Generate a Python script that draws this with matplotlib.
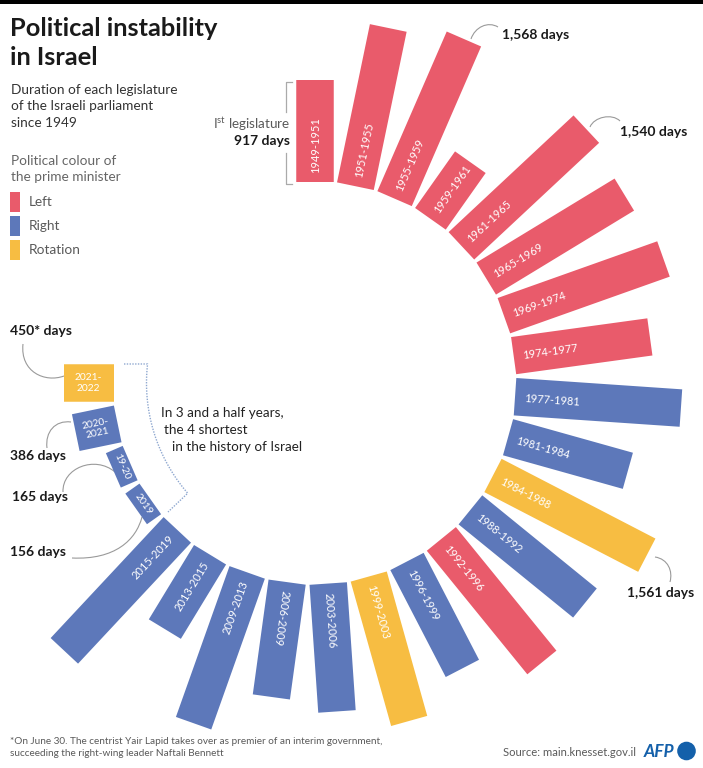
import numpy as np
import matplotlib
matplotlib.use("Agg")
import matplotlib.pyplot as plt
from matplotlib.path import Path
from matplotlib.patches import PathPatch, Rectangle, Circle

plt.rcParams['font.family'] = ['Lato', 'DejaVu Sans']
plt.rcParams['mathtext.fontset'] = 'custom'
plt.rcParams['mathtext.rm'] = 'Lato'

# ---------------- data ----------------
legislatures = ["1949-1951", "1951-1955", "1955-1959", "1959-1961", "1961-1965",
                "1965-1969", "1969-1974", "1974-1977", "1977-1981", "1981-1984",
                "1984-1988", "1988-1992", "1992-1996", "1996-1999", "1999-2003",
                "2003-2006", "2006-2009", "2009-2013", "2013-2015", "2015-2019",
                "2019", "19-20", "2020-\n2021", "2021-\n2022"]
days = [917, 1456, 1568, 624, 1540, 1456, 1526, 1239, 1498, 1121,
        1561, 1330, 1435, 1085, 1351, 1155, 1044, 1442, 784, 1491,
        156, 165, 386, 450]
pm_colour = ["Left"] * 8 + ["Right", "Right", "Rotation", "Right", "Left",
                            "Right", "Rotation"] + ["Right"] * 8 + ["Rotation"]
legend_labels = ["Left", "Right", "Rotation"]
palette = {"Left": "#E95B6B", "Right": "#5D78BA", "Rotation": "#F7BD42"}

# ---------------- layout ----------------
W, H = 703, 768
CX, CY = 314.5, 383.0      # centre of the ring (pixels)
INNER = 201.0              # inner radius (pixels)
PXD = 0.111                # pixels per day
R_AX = 420.0               # radius of the polar axes (pixels)
BAR_W = 37.5               # bar thickness (pixels)

fig = plt.figure(figsize=(W / 100, H / 100), dpi=100)
ov = fig.add_axes([0, 0, 1, 1])
ov.set_xlim(0, W)
ov.set_ylim(H, 0)
ov.axis('off')

# top rule
ov.add_patch(Rectangle((0, 0), W, 3.5, color='black', lw=0))

DARK = '#1a1a1a'
GREY = '#5a5a5a'

# title
ov.text(10, 36, "Political instability", fontsize=18.3, fontweight='bold', color=DARK, va='baseline')
ov.text(10, 65, "in Israel", fontsize=18.3, fontweight='bold', color=DARK, va='baseline')
for k, line in enumerate(["Duration of each legislature", "of the Israeli parliament", "since 1949"]):
    ov.text(11, 94 + 16.3 * k, line, fontsize=9.8, color='#333333', va='baseline')
for k, line in enumerate(["Political colour of", "the prime minister"]):
    ov.text(11, 165 + 16 * k, line, fontsize=9.8, color='#666666', va='baseline')
for k, lab in enumerate(legend_labels):
    y0 = 192 + 24.2 * k
    ov.add_patch(Rectangle((10, y0), 10, 20, color=palette[lab], lw=0))
    ov.text(29, y0 + 10, lab, fontsize=9.8, color=GREY, va='center')

# first legislature annotation
ov.text(290, 124, r"I$^{\mathrm{st}}$ legislature", fontsize=9.7, color=GREY, ha='right', va='center')
ov.text(290, 141, "917 days", fontsize=10, fontweight='bold', color=DARK, ha='right', va='center')
ov.plot([292, 285.7, 285.7], [82, 82, 111.5], color='#aaaaaa', lw=0.9)
ov.plot([285.7, 285.7, 292], [153, 183.5, 183.5], color='#aaaaaa', lw=0.9)


def curve(p0, p1, p2, p3):
    path = Path([p0, p1, p2, p3], [Path.MOVETO, Path.CURVE4, Path.CURVE4, Path.CURVE4])
    ov.add_patch(PathPatch(path, fill=False, ec='#9a9a9a', lw=0.8))


curve((471, 39), (475, 27), (488, 21), (498, 27))
ov.text(502, 35, "1,568 days", fontsize=10, fontweight='bold', color=DARK, va='center')
curve((590, 127), (594, 117), (612, 113), (620, 121))
ov.text(620, 131.5, "1,540 days", fontsize=10, fontweight='bold', color=DARK, va='center')
curve((655, 557), (668, 559), (673, 571), (670, 582))
ov.text(627, 593, "1,561 days", fontsize=10, fontweight='bold', color=DARK, va='center')
curve((23, 344), (20, 372), (45, 383), (64, 376))
ov.text(10, 331, "450* days", fontsize=10, fontweight='bold', color=DARK, va='center')
curve((47, 448), (45, 432), (55, 420), (71, 422))
ov.text(10, 456, "386 days", fontsize=10, fontweight='bold', color=DARK, va='center')
curve((63, 492), (62, 468), (95, 455), (115, 472))
ov.text(12, 497, "165 days", fontsize=10, fontweight='bold', color=DARK, va='center')
curve((72, 558), (115, 560), (136, 540), (142, 517))
ov.text(10, 552, "156 days", fontsize=10, fontweight='bold', color=DARK, va='center')

# dotted bracket around the four shortest legislatures
R_BR = 168.0
ang = np.deg2rad(np.linspace(276.5, 229, 60))
bx = CX + R_BR * np.sin(ang)
by = CY - R_BR * np.cos(ang)
bx = np.concatenate([[124], bx, [168]])
by = np.concatenate([[364], by, [512]])
ov.plot(bx, by, color='#8fa8d0', lw=1.0, ls=(0, (1, 1)))
for k, (line, x) in enumerate([("In 3 and a half years,", 161), ("the 4 shortest", 164),
                               ("in the history of Israel", 172.5)]):
    ov.text(x, 413 + 16.8 * k, line, fontsize=9.7, color='#222222', va='center')

# footer
ov.text(10, 741, "*On June 30. The centrist Yair Lapid takes over as premier of an interim government,",
        fontsize=7.2, color=GREY, va='center')
ov.text(10, 754, "succeeding the right-wing leader Naftali Bennett", fontsize=7.2, color=GREY, va='center')
ov.text(503, 752, "Source: main.knesset.gov.il", fontsize=8.1, color=GREY, va='center')
ov.text(644, 752, "AFP", fontsize=12.5, fontweight='bold', fontstyle='italic', color='#1460AA', va='center')
ov.add_patch(Circle((686.5, 751), 9.3, color='#1460AA', lw=0))

# ---------------- radial bars ----------------
n = len(days)
theta = np.deg2rad(np.arange(n) * 270.0 / (n - 1))
pax = fig.add_axes([(CX - R_AX) / W, 1 - (CY + R_AX) / H, 2 * R_AX / W, 2 * R_AX / H],
                   projection='polar')
pax.set_theta_zero_location('N')
pax.set_theta_direction(-1)
pax.set_ylim(0, R_AX / PXD)
r0 = INNER / PXD
pax.vlines(theta, r0, r0 + np.array(days), colors=[palette[c] for c in pm_colour],
           linewidth=BAR_W * 72 / 100, capstyle='butt')
pax.set_axis_off()

for i, (lab, d, th) in enumerate(zip(legislatures, days, theta)):
    deg = np.rad2deg(th)
    if i < 20:
        if deg <= 190:
            rot, ha = 90 - deg, 'left'
        else:
            rot, ha = 270 - deg, 'right'
        pax.text(th, r0 + 9 / PXD, lab, rotation=rot, rotation_mode='anchor', ha=ha,
                 va='center_baseline', color='white', fontsize=7.9)
    else:
        rot = 180 - deg if i < 22 else 270 - deg
        pax.text(th, r0 + d / 2, lab, rotation=rot, rotation_mode='anchor', ha='center',
                 va='center', color='white', fontsize=7.4, linespacing=1.15,
                 multialignment='center')

fig.savefig("out.png", dpi=100)
